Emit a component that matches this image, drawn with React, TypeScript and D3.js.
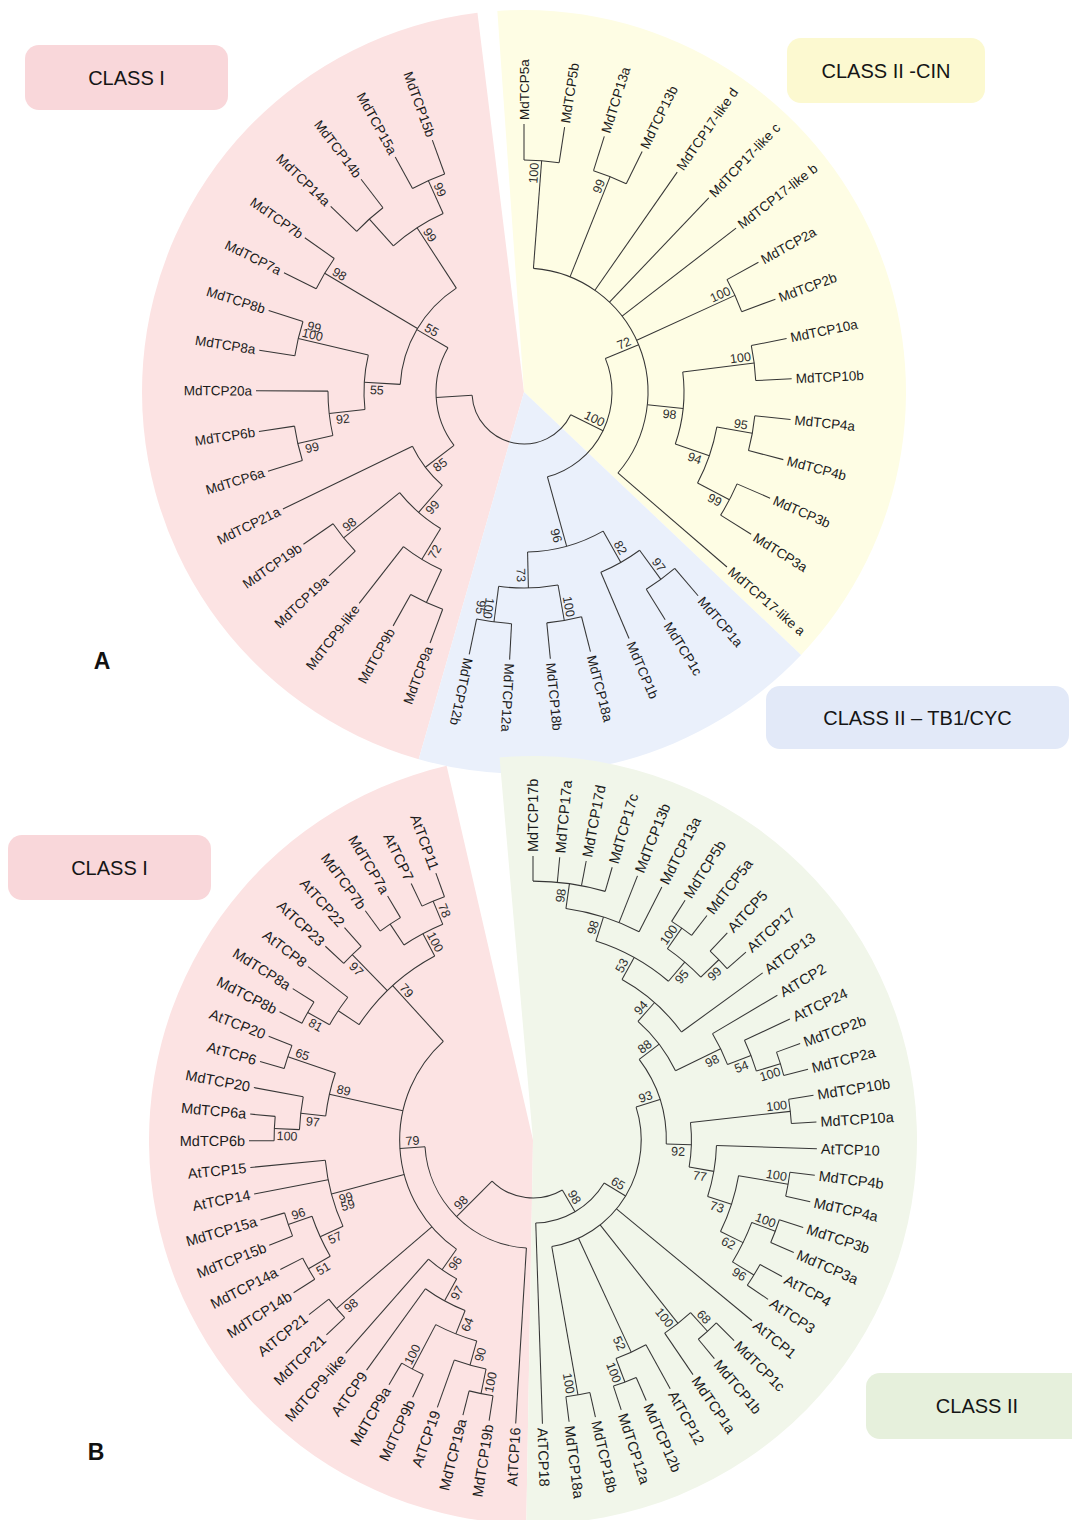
import React, { useMemo } from "react";
import * as d3 from "d3";

// ---------- Panel A: apple TCP genes (Newick, internal labels = bootstrap) ----------
const cladeA_CIN =
  "((MdTCP5a,MdTCP5b)100,(MdTCP13a,MdTCP13b)99,MdTCP17-like d,MdTCP17-like c,MdTCP17-like b,(MdTCP2a,MdTCP2b)100,((MdTCP10a,MdTCP10b)100,((MdTCP4a,MdTCP4b)95,(MdTCP3b,MdTCP3a)99)94)98,MdTCP17-like a)72";
const cladeA_TB1 =
  "(((MdTCP1a,MdTCP1c)97,MdTCP1b)82,((MdTCP18a,MdTCP18b)100,(MdTCP12a,MdTCP12b)95/100)73)96";
const cladeA_ClassI_low =
  "((((MdTCP9a,MdTCP9b),MdTCP9-like)72,(MdTCP19a,MdTCP19b)98)99,MdTCP21a)85";
const cladeA_ClassI_high =
  "((((MdTCP6a,MdTCP6b)99,MdTCP20a)92,(MdTCP8a,MdTCP8b)99/100)55,(MdTCP7a,MdTCP7b)98,((MdTCP14a,MdTCP14b),(MdTCP15a,MdTCP15b)99)99)55";
const treeA = `((${cladeA_CIN},${cladeA_TB1})100,(${cladeA_ClassI_low},${cladeA_ClassI_high}));`;

// ---------- Panel B: apple + Arabidopsis TCP genes ----------
const cladeB_17 = "((MdTCP17b,MdTCP17a,MdTCP17d,MdTCP17c)98,MdTCP13b,MdTCP13a)98";
const cladeB_5 = "((MdTCP5b,MdTCP5a)100,(AtTCP5,AtTCP17)99)95";
const cladeB_2 = "(AtTCP2,(AtTCP24,(MdTCP2b,MdTCP2a)100)54)98";
const cladeB_34 = "((MdTCP4b,MdTCP4a)100,((MdTCP3b,MdTCP3a)100,(AtTCP4,AtTCP3)96)62)73";
const cladeB_10 = `((MdTCP10b,MdTCP10a)100,(AtTCP10,${cladeB_34})77)92`;
const cladeB_CIN = `((((${cladeB_17},${cladeB_5})53,AtTCP13)94,${cladeB_2})88,${cladeB_10})93`;
const cladeB_CYC = "AtTCP1,((MdTCP1c,MdTCP1b)68,MdTCP1a)100,(AtTCP12,(MdTCP12b,MdTCP12a)100)52,(MdTCP18b,MdTCP18a)100";
const cladeB_ClassII = `((${cladeB_CIN},${cladeB_CYC})65,AtTCP18)98`;

const cladeB_9 = "(((((MdTCP19b,MdTCP19a)100,AtTCP19)90,(MdTCP9b,MdTCP9a)100)64,AtTCP9)97,MdTCP9-like)96";
const cladeB_21 = "(MdTCP21,AtTCP21)98";
const cladeB_1415 = "(((MdTCP14b,MdTCP14a)51,(MdTCP15b,MdTCP15a)96)57,AtTCP14,AtTCP15)59/99";
const cladeB_620 = "(((MdTCP6b,MdTCP6a)100,MdTCP20)97,(AtTCP6,AtTCP20)65)89";
const cladeB_87 = "(((MdTCP8b,MdTCP8a)81,AtTCP8),(AtTCP23,AtTCP22)97,((MdTCP7b,MdTCP7a),(AtTCP7,AtTCP11)78)100)79";
const cladeB_ClassI = `(AtTCP16,(${cladeB_9},${cladeB_21},${cladeB_1415},${cladeB_620},${cladeB_87})79)98`;
const treeB = `(${cladeB_ClassII},${cladeB_ClassI});`;

const classLabelsA = ["CLASS I", "CLASS II -CIN", "CLASS II \u2013 TB1/CYC"];
const classLabelsB = ["CLASS I", "CLASS II"];
const panelLetters = ["A", "B"];

// ---------- helpers ----------
type TNode = { name: string; children: TNode[] };

function parseNewick(src: string): TNode {
  let i = 0;
  const skip = () => {
    while (i < src.length && src[i] === " ") i++;
  };
  function read(): TNode {
    skip();
    const node: TNode = { name: "", children: [] };
    if (src[i] === "(") {
      i++;
      node.children.push(read());
      skip();
      while (src[i] === ",") {
        i++;
        node.children.push(read());
        skip();
      }
      i++;
    }
    const start = i;
    while (i < src.length && !"(),;".includes(src[i])) i++;
    node.name = src.slice(start, i).trim();
    return node;
  }
  return read();
}

const DEG = Math.PI / 180;
const pol = (r: number, a: number): [number, number] => [r * Math.cos(a * DEG), r * Math.sin(a * DEG)];

// Leaves spread evenly over 340°, nodes placed by height (tips aligned)
function layout(newick: string, tipR: number, rootR: number) {
  const root: any = d3.hierarchy(parseNewick(newick), (d: TNode) => (d.children.length ? d.children : null));
  const leaves = root.leaves();
  const angle = d3.scaleLinear().domain([0, leaves.length - 1]).range([-90, 250]);
  leaves.forEach((l: any, i: number) => (l.a = angle(i)));
  root.eachAfter((n: any) => {
    if (n.children) n.a = (n.children[0].a + n.children[n.children.length - 1].a) / 2;
  });
  const radius = d3.scaleLinear().domain([0, root.height]).range([tipR, rootR]);
  root.each((n: any) => (n.r = radius(n.height)));
  const flipped = new Set(root.children[1].descendants());
  return { root, flipped };
}

function RadialTree(props: {
  newick: string;
  cx: number;
  cy: number;
  tipR: number;
  rootR: number;
  leafSize: number;
  bootSize: number;
}) {
  const { newick, cx, cy, tipR, rootR, leafSize, bootSize } = props;
  const { root, flipped } = useMemo(() => layout(newick, tipR, rootR), [newick, tipR, rootR]);
  const nodes: any[] = root.descendants();

  const arcD = (n: any) => {
    const a0 = n.children[0].a;
    const a1 = n.children[n.children.length - 1].a;
    const p = d3.path();
    const [x0, y0] = pol(n.r, a0);
    p.moveTo(x0, y0);
    p.arc(0, 0, n.r, a0 * DEG, a1 * DEG, false);
    return p.toString();
  };

  const boots: any[] = [];
  nodes.forEach((n) => {
    if (!n.children || !n.parent || !n.data.name) return;
    const sib = n.parent.children;
    const idx = sib.indexOf(n);
    const s = idx === 0 ? -1 : idx === sib.length - 1 ? 1 : Math.sign(n.a - n.parent.a) || 1;
    const parts = n.data.name.split("/");
    parts.forEach((t: string, k: number) => {
      const off = s * (7 + 8 * (parts.length - 1 - k));
      boots.push({ t, n, off });
    });
  });

  return (
    <g transform={`translate(${cx},${cy})`}>
      <g fill="none" stroke="#363636" strokeWidth={1.05}>
        {nodes
          .filter((n) => n.parent)
          .map((n, i) => {
            const [x1, y1] = pol(n.parent.r, n.a);
            const [x2, y2] = pol(n.r, n.a);
            return <line key={"l" + i} x1={x1} y1={y1} x2={x2} y2={y2} />;
          })}
        {nodes
          .filter((n) => n.children)
          .map((n, i) => (
            <path key={"a" + i} d={arcD(n)} />
          ))}
      </g>
      <g fontFamily="'Liberation Sans', Arial, sans-serif" fill="#1b1b1b" fontSize={leafSize}>
        {root.leaves().map((l: any, i: number) => {
          const f = flipped.has(l);
          return (
            <text
              key={"t" + i}
              transform={`rotate(${l.a}) translate(${tipR + 4},0)${f ? " rotate(180)" : ""}`}
              textAnchor={f ? "end" : "start"}
              dy="0.35em"
            >
              {l.data.name}
            </text>
          );
        })}
      </g>
      <g fontFamily="'Liberation Sans', Arial, sans-serif" fill="#2e2e2e" fontSize={bootSize}>
        {boots.map((b, i) => {
          const f = flipped.has(b.n);
          return (
            <text
              key={"b" + i}
              transform={`rotate(${b.n.a}) translate(${b.n.r - 13},${b.off})${f ? " rotate(180)" : ""}`}
              textAnchor="middle"
              dy="0.35em"
            >
              {b.t}
            </text>
          );
        })}
      </g>
    </g>
  );
}

function Sector(props: { cx: number; cy: number; R: number; from: number; to: number; fill: string }) {
  const d = d3.arc()({
    innerRadius: 0,
    outerRadius: props.R,
    startAngle: (props.from + 90) * DEG,
    endAngle: (props.to + 90) * DEG,
  } as any) as string;
  return <path transform={`translate(${props.cx},${props.cy})`} d={d} fill={props.fill} />;
}

function ClassBox(props: { x: number; y: number; w: number; h: number; fill: string; label: string }) {
  const { x, y, w, h, fill, label } = props;
  return (
    <g>
      <rect x={x} y={y} width={w} height={h} rx={14} fill={fill} />
      <text
        x={x + w / 2}
        y={y + h / 2}
        dy="0.35em"
        textAnchor="middle"
        fontSize={20}
        fontFamily="'Liberation Sans', Arial, sans-serif"
        fill="#151515"
      >
        {label}
      </text>
    </g>
  );
}

const PINK = "#FCE3E3";
const YELLOW = "#FEFDE4";
const BLUE = "#EAF0FB";
const GREEN = "#F1F6EA";

export default function App() {
  const A = { cx: 524, cy: 392 };
  const B = { cx: 533, cy: 1140 };
  return (
    <div>
      <style>{`body{margin:0;background:#fff}`}</style>
      <svg width={1072} height={1520} viewBox="0 0 1072 1520" style={{ display: "block" }}>
        <rect width={1072} height={1520} fill="#fff" />

        {/* Panel A sectors */}
        <Sector cx={A.cx} cy={A.cy} R={382} from={106} to={263} fill={PINK} />
        <Sector cx={A.cx} cy={A.cy} R={382} from={266} to={403.5} fill={YELLOW} />
        <Sector cx={A.cx} cy={A.cy} R={382} from={43.5} to={106} fill={BLUE} />

        {/* Panel B sectors */}
        <Sector cx={B.cx} cy={B.cy} R={384} from={91} to={257} fill={PINK} />
        <Sector cx={B.cx} cy={B.cy} R={384} from={265} to={451} fill={GREEN} />

        <ClassBox x={25} y={45} w={203} h={65} fill="#F9D7DA" label={classLabelsA[0]} />
        <ClassBox x={787} y={38} w={198} h={65} fill="#FCF9D0" label={classLabelsA[1]} />
        <ClassBox x={766} y={686} w={303} h={63} fill="#E2E9F8" label={classLabelsA[2]} />
        <ClassBox x={8} y={835} w={203} h={65} fill="#F9D7DA" label={classLabelsB[0]} />
        <ClassBox x={866} y={1373} w={222} h={66} fill="#E6F0DC" label={classLabelsB[1]} />

        <RadialTree newick={treeA} cx={A.cx} cy={A.cy} tipR={268} rootR={52} leafSize={13.5} bootSize={12.5} />
        <RadialTree newick={treeB} cx={B.cx} cy={B.cy} tipR={284} rootR={58} leafSize={14.5} bootSize={12.5} />

        <g fontFamily="'Liberation Sans', Arial, sans-serif" fontWeight="bold" fontSize={23} fill="#111" textAnchor="middle">
          <text x={102} y={669}>{panelLetters[0]}</text>
          <text x={96} y={1460}>{panelLetters[1]}</text>
        </g>
      </svg>
    </div>
  );
}
